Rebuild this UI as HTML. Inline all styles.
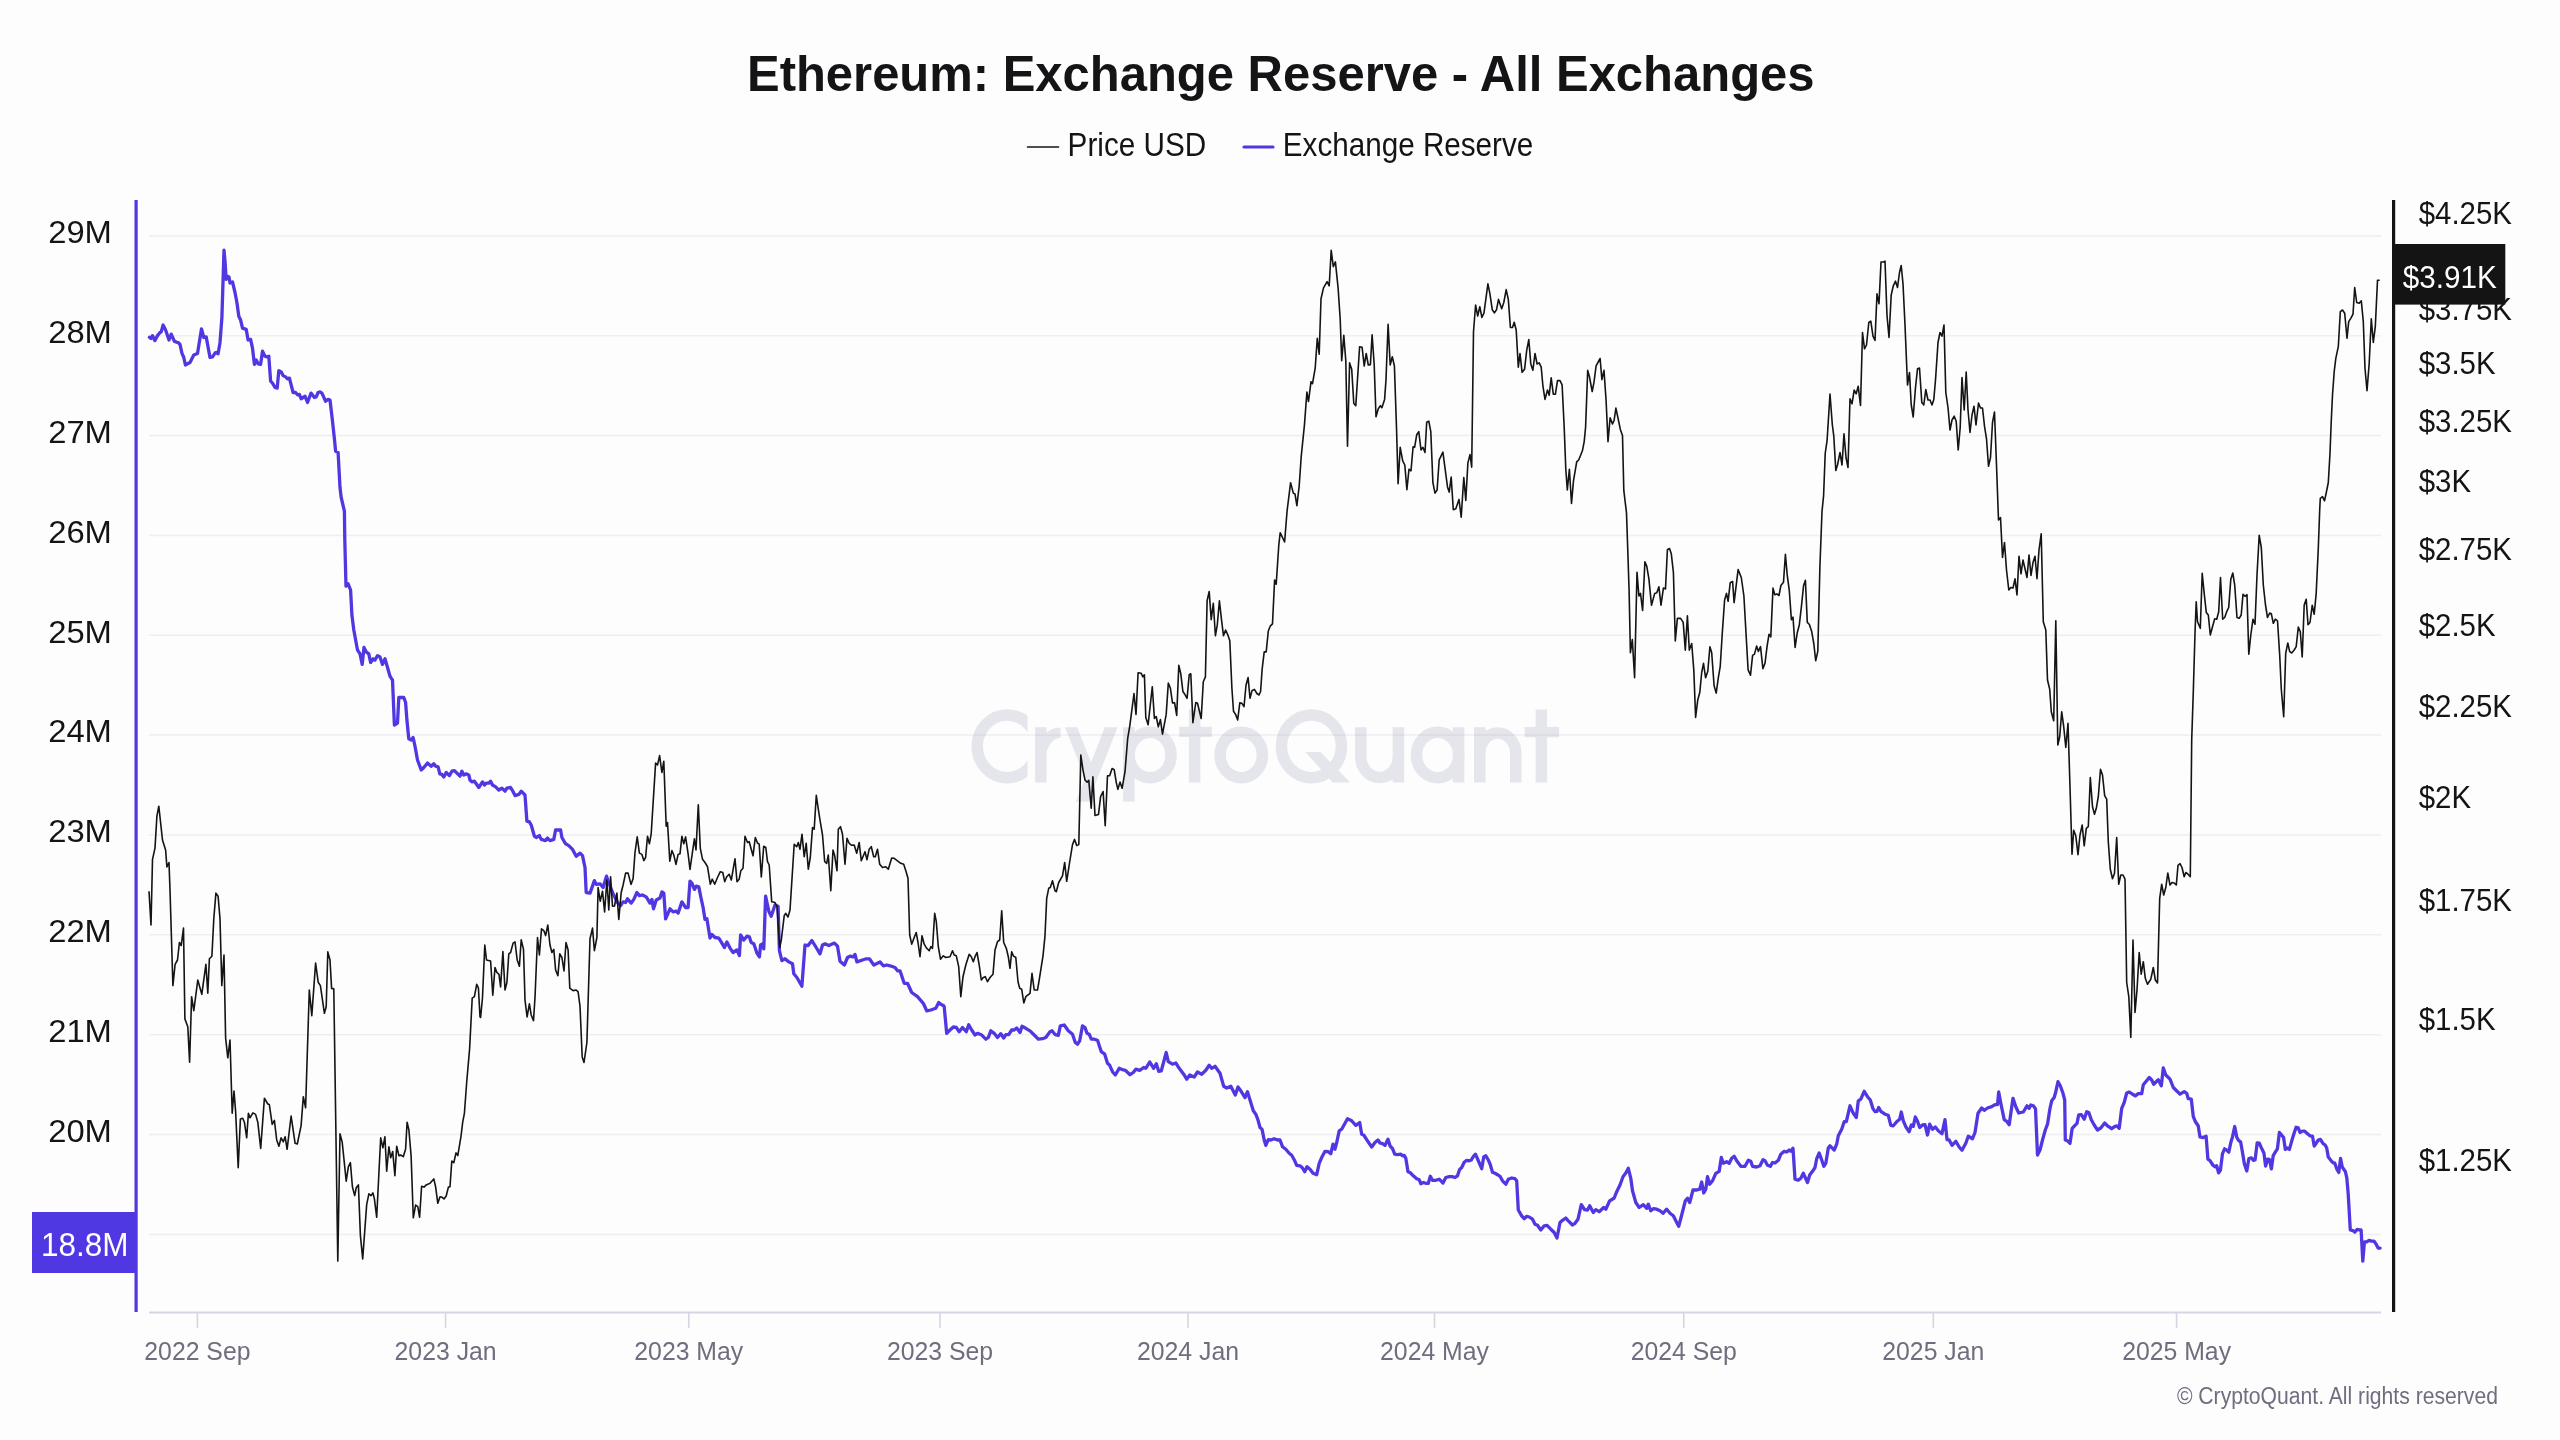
<!DOCTYPE html>
<html><head><meta charset="utf-8"><title>Ethereum: Exchange Reserve - All Exchanges</title>
<style>
html,body{margin:0;padding:0;background:#fdfdfd;}
body{width:2560px;height:1440px;overflow:hidden;font-family:"Liberation Sans", sans-serif;}
svg{display:block;will-change:transform;}
</style></head><body>
<svg width="2560" height="1440" viewBox="0 0 2560 1440" font-family='"Liberation Sans", sans-serif'>
<text x="747" y="91.3" font-size="50" font-weight="bold" fill="#141417" textLength="1067.5" lengthAdjust="spacingAndGlyphs">Ethereum: Exchange Reserve - All Exchanges</text>
<line x1="1027.5" y1="147" x2="1058.5" y2="147" stroke="#141414" stroke-width="1.6" stroke-linecap="round"/>
<text x="1067.6" y="155.5" font-size="33.6" fill="#141414" textLength="138.6" lengthAdjust="spacingAndGlyphs">Price USD</text>
<line x1="1244" y1="147" x2="1273" y2="147" stroke="#4f37e1" stroke-width="3.2" stroke-linecap="round"/>
<text x="1282.8" y="155.6" font-size="33.6" fill="#141414" textLength="250.5" lengthAdjust="spacingAndGlyphs">Exchange Reserve</text>
<defs><clipPath id="cc"><rect x="960" y="700" width="67.5" height="100"/></clipPath></defs>
<g fill="none" stroke="#e5e5ec" stroke-width="11.5">
<ellipse cx="1007.25" cy="746.35" rx="30" ry="31.3" clip-path="url(#cc)"/>
<line x1="1040.85" y1="727.2" x2="1040.85" y2="782.5"/>
<path d="M1040.85 757.5 A19.65 25 0 0 1 1060.5 732.7" stroke-width="10.5"/>
<line x1="1128.8" y1="727.2" x2="1128.8" y2="801.7"/>
<ellipse cx="1150.1" cy="755" rx="21" ry="22.7"/>
<line x1="1194.65" y1="709.5" x2="1194.65" y2="782.5"/>
<ellipse cx="1241.25" cy="755" rx="21.2" ry="22.7"/>
<ellipse cx="1311.45" cy="746.35" rx="30" ry="31.3"/>
<path d="M1360.8 727.2 V756.6 A18.825 21 0 0 0 1398.45 756.6"/>
<line x1="1398.45" y1="727.2" x2="1398.45" y2="782.5"/>
<ellipse cx="1437.6" cy="755" rx="21.15" ry="22.7"/>
<line x1="1458.55" y1="727.2" x2="1458.55" y2="782.5"/>
<line x1="1479.75" y1="727.2" x2="1479.75" y2="782.5"/>
<path d="M1479.75 753.5 A18.025 20.5 0 0 1 1515.8 753.5 V782.5"/>
<line x1="1541.35" y1="709.5" x2="1541.35" y2="782.5"/>
</g>
<g fill="#e5e5ec">
<polygon points="1065,727.2 1077.2,727.2 1097.2,778 1085,778"/>
<polygon points="1104.85,727.2 1117.6,727.2 1088.3,801.7 1075.8,801.7"/>
<rect x="1179.2" y="726.8" width="32.7" height="10.2"/>
<polygon points="1305.4,751.9 1320.5,751.9 1350.2,782.5 1332.7,782.5"/>
<rect x="1524.6" y="727" width="34.5" height="10.3"/>
</g>
<g stroke="#7c7c9c" stroke-opacity="0.11" stroke-width="1.5"><line x1="149" y1="1234.4" x2="2381" y2="1234.4"/><line x1="149" y1="1134.5" x2="2381" y2="1134.5"/><line x1="149" y1="1034.7" x2="2381" y2="1034.7"/><line x1="149" y1="934.8" x2="2381" y2="934.8"/><line x1="149" y1="835.0" x2="2381" y2="835.0"/><line x1="149" y1="735.1" x2="2381" y2="735.1"/><line x1="149" y1="635.3" x2="2381" y2="635.3"/><line x1="149" y1="535.4" x2="2381" y2="535.4"/><line x1="149" y1="435.6" x2="2381" y2="435.6"/><line x1="149" y1="335.8" x2="2381" y2="335.8"/><line x1="149" y1="235.9" x2="2381" y2="235.9"/></g>
<polyline fill="none" stroke="#4f37e1" stroke-width="3.3" stroke-linejoin="round" stroke-linecap="round" points="149.4,337.2 151.0,338.5 152.5,335.6 154.8,340.6 157.5,335.6 160.0,332.5 161.2,331.9 163.1,325.0 165.6,330.0 169.0,340.0 171.2,334.1 174.4,341.2 176.2,342.1 178.1,342.5 180.0,344.4 181.9,353.1 183.8,357.5 185.4,365.0 187.5,363.8 190.0,362.5 193.8,355.0 197.5,353.5 201.5,328.8 203.8,337.5 206.2,336.9 210.0,357.5 212.5,356.9 215.0,353.1 216.2,352.5 218.1,353.8 220.0,342.5 221.9,317.5 224.0,250.2 225.0,261.2 226.2,279.4 227.5,276.2 229.0,276.9 230.0,283.1 232.5,281.9 235.0,292.5 236.9,302.5 238.8,316.2 240.6,320.0 242.5,328.1 246.2,329.4 248.1,340.0 250.6,339.4 252.5,348.1 254.4,364.4 256.2,360.0 258.1,363.8 260.6,364.4 262.5,351.2 265.0,356.2 266.9,356.9 268.8,356.2 270.6,381.2 272.5,383.1 275.0,387.5 277.2,388.1 278.8,370.6 281.2,371.9 283.1,375.6 285.6,376.9 287.5,378.8 289.4,378.1 293.1,392.5 295.6,392.5 297.5,394.8 299.4,394.4 301.2,398.8 305.0,396.2 307.5,402.5 311.0,393.1 314.4,397.5 316.2,396.9 318.1,392.5 320.0,391.9 321.9,393.1 325.6,401.2 328.1,399.4 330.0,400.0 332.5,421.2 334.4,438.8 335.6,451.2 338.1,452.5 340.0,487.5 341.2,497.5 344.4,511.2 344.8,540.0 346.0,586.2 348.1,583.8 350.6,590.0 351.9,615.0 353.8,630.0 357.5,650.0 360.0,653.8 362.2,664.4 364.0,647.5 366.2,651.9 368.8,653.8 370.6,662.5 373.1,658.8 375.0,660.0 377.5,655.6 380.0,656.9 382.5,664.4 385.0,658.8 387.5,667.5 390.0,676.2 391.2,678.1 392.5,680.0 394.4,725.0 397.5,723.1 398.8,697.5 401.9,697.5 403.8,697.5 405.6,702.5 406.9,720.0 408.8,738.8 411.2,740.0 413.1,737.5 415.0,746.2 417.5,760.0 421.2,770.0 423.8,767.5 427.5,763.1 431.2,766.2 433.8,763.8 435.6,766.2 438.1,766.9 439.8,773.8 441.9,774.4 443.8,776.9 446.2,772.5 449.4,775.6 451.9,771.2 454.4,770.6 460.0,776.2 461.9,771.2 463.8,775.0 466.2,773.8 468.8,775.0 470.0,780.0 471.9,781.9 474.4,781.2 476.2,783.8 478.8,787.5 482.5,781.9 484.4,785.0 486.2,783.1 488.8,783.1 490.6,781.2 492.5,785.0 495.6,786.9 498.8,790.0 501.9,788.1 505.0,791.2 506.9,788.1 510.6,787.5 512.5,790.6 515.0,795.6 518.8,794.4 521.2,791.2 525.0,795.0 526.9,821.2 529.4,821.9 531.2,825.0 534.4,836.2 536.2,837.5 539.4,835.6 541.2,839.4 545.6,840.6 547.5,838.1 550.0,840.6 553.8,839.4 555.6,830.0 560.0,830.0 560.6,830.0 561.9,837.5 565.6,843.8 568.8,845.6 572.5,849.4 576.2,856.2 580.0,853.1 582.5,855.6 585.0,867.5 586.2,892.5 590.0,893.1 594.4,880.6 596.2,884.4 600.0,883.8 603.1,887.5 606.5,876.2 608.8,882.5 612.5,892.5 617.5,902.5 620.6,905.6 623.1,901.9 625.6,902.5 627.5,898.8 631.2,903.1 633.8,899.4 636.9,892.5 639.4,895.6 642.5,895.0 646.2,896.9 650.0,903.1 651.9,899.4 653.5,908.8 656.2,900.0 660.0,898.1 661.9,891.9 663.8,893.1 665.6,918.8 670.0,908.8 673.1,911.9 676.2,911.2 678.1,913.1 681.9,901.9 685.6,907.5 688.1,907.5 690.0,881.2 691.9,883.1 694.4,889.4 696.2,886.2 698.8,886.9 701.2,898.8 703.1,907.5 705.0,919.4 706.9,918.8 710.0,938.1 711.9,934.4 715.0,937.5 718.8,938.1 721.9,943.1 724.4,947.5 726.9,941.9 730.0,948.1 733.1,952.5 736.9,950.0 739.4,955.6 740.6,935.0 743.8,940.0 746.9,936.2 749.4,936.9 751.2,942.5 753.8,943.8 756.9,953.1 759.4,956.9 760.6,945.0 762.5,943.8 763.8,948.8 765.6,896.2 768.8,911.2 771.2,916.2 775.0,905.0 778.1,906.2 779.4,950.6 781.9,960.6 785.0,958.8 788.8,961.9 792.5,963.8 793.8,973.8 796.9,977.5 801.9,986.2 805.0,945.0 808.1,945.6 811.9,940.6 816.2,947.5 820.0,953.8 822.5,945.0 825.0,943.8 828.8,945.6 834.4,943.1 837.5,946.2 840.0,961.2 844.4,965.0 847.5,957.5 850.0,956.2 853.1,956.9 855.0,954.4 856.9,961.9 862.5,960.0 866.2,958.8 869.4,958.8 873.8,965.0 880.0,961.9 883.3,965.8 886.7,965.0 890.0,965.8 895.0,967.5 897.5,970.8 900.0,970.8 904.2,983.3 907.5,983.3 911.7,992.5 917.5,996.7 923.3,1003.3 926.7,1010.8 930.8,1010.0 935.8,1008.3 938.7,1002.5 940.8,1004.2 943.7,1005.8 944.2,1006.7 946.7,1033.3 950.0,1030.0 953.3,1027.0 956.3,1027.5 959.2,1031.7 962.5,1027.5 966.3,1031.7 968.7,1024.7 971.7,1030.0 975.0,1035.0 977.5,1033.3 981.3,1034.7 985.8,1039.2 988.3,1037.5 990.8,1030.8 994.2,1033.3 997.5,1037.5 1000.8,1033.7 1003.7,1038.0 1005.8,1034.7 1008.7,1034.7 1011.7,1030.0 1014.2,1030.0 1016.7,1028.0 1020.0,1032.5 1022.0,1026.3 1025.8,1028.3 1030.0,1030.8 1034.2,1035.0 1038.3,1039.2 1042.5,1038.7 1045.8,1037.5 1050.0,1031.7 1052.0,1030.8 1055.3,1034.7 1058.3,1035.3 1060.3,1025.8 1064.2,1025.0 1068.3,1030.8 1072.5,1034.2 1075.3,1042.5 1077.5,1044.2 1079.7,1040.8 1082.5,1025.8 1085.0,1027.5 1087.0,1033.3 1089.2,1034.2 1091.3,1039.2 1094.2,1039.2 1097.5,1040.3 1101.3,1051.7 1104.7,1054.2 1107.5,1063.3 1109.7,1065.3 1112.5,1071.7 1115.3,1075.0 1119.2,1068.3 1122.5,1069.7 1125.3,1070.3 1130.0,1074.7 1133.3,1072.5 1135.8,1069.2 1139.7,1070.3 1143.7,1067.5 1145.8,1068.3 1149.7,1062.0 1153.7,1068.3 1156.3,1063.7 1158.7,1071.3 1161.3,1070.8 1164.2,1060.0 1166.2,1052.5 1168.3,1061.7 1172.5,1064.2 1175.8,1063.0 1179.2,1068.3 1183.7,1074.2 1186.7,1079.2 1189.7,1075.0 1194.2,1077.0 1197.5,1072.0 1201.7,1074.2 1205.8,1070.3 1209.2,1065.3 1211.7,1068.3 1215.0,1066.3 1220.0,1073.3 1223.7,1086.3 1226.7,1088.0 1230.8,1086.3 1235.3,1095.0 1238.0,1087.0 1240.8,1090.8 1245.0,1097.5 1247.5,1091.7 1250.0,1100.0 1253.3,1110.8 1255.8,1114.2 1258.0,1120.0 1260.0,1127.5 1262.0,1129.2 1264.2,1140.0 1265.8,1145.3 1268.3,1139.7 1270.8,1140.0 1274.2,1138.7 1277.5,1140.0 1280.0,1140.0 1282.5,1146.7 1285.8,1149.2 1289.2,1153.3 1291.7,1155.3 1294.2,1159.7 1296.7,1165.3 1300.0,1165.8 1302.5,1168.0 1304.7,1171.7 1307.0,1166.7 1310.0,1169.2 1313.0,1173.3 1316.7,1174.7 1319.2,1163.3 1321.7,1157.5 1325.0,1151.3 1328.3,1151.7 1330.8,1153.7 1333.0,1144.2 1335.0,1149.2 1336.7,1142.5 1339.2,1130.8 1341.7,1129.2 1345.0,1123.3 1347.5,1118.7 1351.7,1120.8 1355.8,1125.3 1359.7,1122.5 1361.7,1134.2 1363.7,1135.0 1367.5,1140.8 1371.7,1147.0 1375.0,1142.5 1378.0,1140.0 1380.0,1143.0 1382.5,1143.7 1385.0,1145.3 1388.0,1139.2 1390.0,1145.8 1392.5,1148.7 1394.7,1154.2 1397.5,1154.7 1400.8,1154.2 1402.5,1155.8 1404.2,1155.3 1405.8,1158.3 1408.0,1171.7 1410.0,1172.5 1413.3,1175.8 1416.7,1178.8 1419.2,1179.7 1420.8,1183.7 1423.3,1182.5 1425.8,1183.3 1428.3,1183.3 1430.3,1176.3 1432.5,1180.3 1435.8,1180.3 1439.2,1179.2 1443.0,1183.0 1445.8,1177.5 1449.2,1176.7 1452.5,1176.7 1455.0,1177.5 1457.5,1175.8 1459.5,1169.7 1461.7,1167.5 1464.2,1162.2 1466.7,1160.3 1469.2,1160.8 1471.3,1160.0 1473.3,1156.7 1475.5,1154.2 1478.0,1160.0 1481.7,1168.7 1483.7,1157.0 1485.8,1155.8 1488.3,1160.0 1490.3,1164.7 1492.5,1172.2 1495.0,1173.3 1497.5,1174.7 1500.0,1176.3 1502.5,1180.8 1505.8,1184.2 1508.3,1179.2 1511.7,1178.0 1515.0,1178.7 1516.7,1180.8 1518.3,1210.0 1521.7,1215.8 1524.2,1218.7 1526.7,1216.3 1529.2,1217.0 1532.5,1219.2 1535.0,1224.2 1537.5,1225.3 1540.8,1230.0 1544.2,1225.8 1547.0,1225.3 1550.8,1229.2 1554.2,1232.5 1557.0,1238.0 1560.0,1222.5 1562.5,1220.3 1565.8,1218.0 1568.3,1220.8 1572.5,1225.0 1575.0,1223.3 1578.0,1219.2 1581.3,1204.7 1584.7,1209.7 1587.5,1210.0 1589.7,1205.8 1593.3,1212.5 1595.8,1209.7 1599.2,1211.7 1603.7,1207.5 1605.8,1209.2 1609.7,1200.8 1614.2,1198.0 1616.7,1191.7 1620.0,1185.0 1623.0,1176.7 1625.8,1173.0 1628.3,1168.3 1630.8,1178.3 1632.5,1190.8 1635.8,1202.5 1639.2,1207.5 1643.3,1204.7 1646.7,1208.3 1648.3,1204.2 1650.8,1210.8 1653.3,1208.7 1656.7,1209.2 1660.0,1210.8 1663.0,1213.3 1666.7,1209.2 1670.0,1213.3 1673.3,1215.8 1676.7,1222.5 1678.7,1226.3 1681.7,1215.0 1685.3,1200.8 1687.5,1198.3 1689.7,1202.5 1693.0,1190.0 1696.7,1190.0 1699.7,1189.2 1701.7,1182.0 1703.7,1193.0 1705.8,1189.2 1707.5,1176.7 1709.7,1184.2 1712.5,1180.8 1715.8,1173.3 1719.2,1171.3 1721.3,1157.5 1723.3,1163.3 1726.7,1161.7 1729.2,1163.3 1731.7,1158.3 1734.2,1156.3 1736.7,1160.8 1740.8,1166.3 1745.0,1166.3 1748.3,1160.3 1750.8,1161.3 1752.5,1166.3 1756.7,1167.0 1760.0,1165.8 1763.0,1159.7 1765.0,1160.8 1767.5,1165.3 1770.3,1166.3 1772.5,1162.5 1775.0,1163.0 1778.3,1160.3 1780.8,1154.2 1784.2,1151.3 1786.7,1152.0 1789.2,1150.0 1790.8,1151.3 1793.0,1148.3 1795.0,1179.2 1798.3,1180.3 1800.8,1178.3 1803.3,1173.3 1807.5,1182.5 1809.7,1175.0 1812.5,1171.3 1815.0,1167.5 1816.7,1158.7 1819.2,1153.0 1821.7,1160.0 1823.8,1166.3 1825.8,1163.3 1828.3,1148.0 1830.0,1145.8 1834.2,1150.0 1836.7,1144.2 1838.3,1135.8 1841.7,1129.2 1844.2,1121.7 1846.3,1121.7 1850.0,1105.8 1853.3,1113.3 1856.3,1117.5 1858.3,1100.8 1860.8,1099.2 1864.2,1091.3 1867.5,1096.7 1870.3,1100.0 1873.0,1108.7 1875.0,1111.7 1877.0,1111.3 1878.7,1107.5 1880.8,1111.3 1885.0,1114.2 1888.3,1115.3 1890.8,1125.3 1893.3,1125.8 1896.7,1121.7 1899.7,1119.2 1901.3,1112.0 1903.3,1120.8 1905.8,1126.7 1909.2,1131.7 1911.3,1125.0 1913.3,1126.3 1915.3,1117.0 1917.5,1121.3 1919.7,1127.5 1922.5,1125.0 1925.0,1124.7 1927.5,1135.0 1929.7,1124.2 1932.5,1129.2 1935.3,1127.0 1938.3,1130.8 1942.0,1133.7 1945.0,1119.7 1947.0,1139.7 1949.2,1140.0 1952.0,1145.3 1955.8,1141.3 1959.2,1147.0 1962.0,1150.3 1965.8,1143.3 1968.3,1136.3 1972.5,1138.7 1975.0,1132.5 1978.0,1113.3 1981.7,1108.0 1984.2,1110.3 1987.5,1108.0 1991.7,1106.7 1995.0,1104.7 1997.5,1104.7 1998.7,1092.0 2000.8,1103.3 2004.2,1119.7 2006.7,1121.3 2009.2,1124.7 2011.3,1110.0 2013.0,1098.3 2015.8,1106.7 2018.7,1113.0 2023.3,1112.0 2027.0,1105.8 2029.2,1108.3 2030.8,1105.0 2033.3,1105.8 2035.5,1108.7 2037.5,1155.0 2040.0,1150.0 2042.5,1140.0 2045.3,1130.0 2047.5,1124.2 2050.0,1108.3 2051.7,1100.8 2054.2,1097.5 2055.8,1091.7 2058.0,1081.7 2060.3,1085.8 2063.0,1093.3 2064.7,1100.0 2065.3,1140.0 2067.5,1140.8 2070.0,1143.3 2072.2,1128.3 2075.0,1125.3 2077.0,1123.3 2078.7,1115.0 2081.3,1114.7 2084.2,1119.2 2086.7,1111.7 2088.8,1112.5 2091.3,1119.7 2094.2,1125.0 2097.5,1130.0 2100.8,1128.0 2104.7,1123.0 2107.5,1125.8 2111.7,1128.7 2115.0,1126.3 2117.0,1125.8 2119.2,1128.3 2121.7,1108.3 2124.2,1102.5 2126.7,1093.0 2129.2,1092.0 2132.5,1094.2 2135.3,1095.8 2138.3,1093.7 2141.7,1093.7 2143.3,1084.7 2145.8,1081.7 2149.2,1077.5 2151.7,1080.0 2153.7,1084.2 2156.7,1081.3 2158.3,1079.7 2161.3,1085.8 2163.3,1068.0 2165.8,1075.0 2170.0,1079.2 2173.3,1087.5 2175.8,1090.0 2180.0,1094.2 2184.2,1091.7 2186.7,1093.3 2188.3,1098.7 2191.3,1099.2 2193.3,1116.7 2195.4,1121.7 2198.2,1125.8 2200.0,1136.9 2203.1,1137.6 2206.1,1136.2 2207.9,1159.2 2210.0,1160.6 2212.8,1165.0 2214.9,1166.8 2216.7,1165.8 2218.6,1172.8 2220.4,1170.3 2222.5,1153.6 2224.6,1148.8 2226.7,1150.1 2228.8,1152.2 2230.8,1142.5 2232.5,1136.9 2234.7,1126.5 2236.7,1136.9 2238.5,1140.4 2240.6,1141.8 2242.2,1150.8 2244.4,1164.0 2246.8,1171.0 2248.9,1158.5 2251.4,1157.8 2253.3,1160.3 2255.1,1159.9 2257.2,1142.8 2259.3,1143.2 2261.8,1148.8 2263.9,1152.9 2265.6,1166.1 2267.6,1159.2 2269.4,1159.4 2271.4,1168.9 2273.2,1155.7 2275.3,1152.2 2277.4,1148.8 2279.4,1132.5 2281.5,1134.9 2283.6,1137.6 2285.3,1149.4 2287.1,1148.0 2289.4,1149.4 2291.7,1141.1 2294.0,1133.5 2296.1,1127.2 2298.2,1127.9 2300.0,1132.5 2302.4,1131.1 2304.4,1131.1 2307.2,1133.5 2310.0,1135.8 2312.5,1136.2 2314.2,1146.0 2316.2,1143.2 2318.3,1140.0 2320.4,1139.4 2322.8,1143.2 2325.3,1145.3 2326.7,1148.0 2328.3,1157.1 2330.8,1160.3 2332.9,1162.6 2334.7,1163.1 2337.1,1169.6 2338.8,1172.4 2340.6,1158.5 2342.2,1166.8 2344.0,1169.6 2345.4,1171.7 2346.8,1177.9 2348.2,1193.9 2350.3,1230.0 2353.1,1230.7 2354.7,1232.1 2357.2,1229.3 2359.7,1230.0 2361.1,1230.0 2362.8,1261.2 2364.4,1241.8 2366.7,1241.8 2369.0,1240.4 2371.4,1241.1 2373.9,1241.1 2376.0,1243.9 2378.1,1248.1 2380.1,1248.1"/>
<polyline fill="none" stroke="#141414" stroke-width="1.6" stroke-linejoin="round" points="149.0,891.2 151.0,925.0 152.5,859.4 155.0,848.1 156.9,816.2 158.8,806.2 162.5,840.0 165.6,850.0 166.9,866.9 169.0,862.5 170.0,890.0 172.9,985.6 175.1,964.4 177.5,960.0 179.4,942.5 181.2,945.6 183.5,928.1 184.9,1018.9 187.8,1026.7 189.6,1062.2 191.6,996.7 193.8,1010.7 197.8,980.0 201.8,994.4 203.3,983.3 205.9,964.4 207.8,993.3 209.4,958.8 211.9,956.2 213.8,918.8 215.9,893.1 218.1,896.2 220.0,918.8 221.8,985.6 224.0,955.0 225.6,1037.8 227.8,1057.8 230.0,1040.0 232.2,1113.3 234.0,1091.1 235.6,1111.1 238.2,1167.8 240.4,1118.9 242.7,1118.2 244.4,1122.2 246.7,1137.8 248.4,1113.3 250.0,1117.8 252.9,1112.9 255.6,1114.4 257.8,1122.2 260.7,1148.4 264.4,1098.2 267.8,1104.0 269.3,1104.4 272.2,1124.4 274.4,1120.4 276.7,1140.0 278.9,1146.2 281.1,1137.8 283.3,1141.8 285.1,1136.7 287.1,1149.3 291.1,1116.0 295.1,1143.3 297.3,1144.0 301.1,1125.6 303.3,1096.7 305.6,1107.8 309.3,990.0 311.8,1015.6 315.6,963.1 318.2,982.2 320.4,985.6 324.4,1013.3 326.2,1006.7 327.8,951.9 330.0,960.0 331.6,988.4 333.8,988.9 337.8,1261.1 340.0,1133.8 342.2,1142.2 346.2,1181.1 348.4,1166.7 350.4,1162.7 352.4,1186.7 354.7,1195.6 356.2,1187.8 358.4,1184.9 360.4,1235.6 362.7,1258.9 364.4,1235.6 366.7,1204.4 368.9,1193.8 371.1,1195.6 372.9,1192.9 374.4,1198.9 376.7,1217.3 378.9,1173.3 380.7,1137.8 382.9,1147.8 384.9,1136.7 386.7,1171.1 388.9,1146.7 390.7,1157.8 392.7,1151.6 394.9,1175.6 396.7,1146.2 398.9,1155.6 401.1,1155.1 403.3,1156.7 405.6,1148.9 407.1,1122.2 408.9,1130.0 411.1,1155.6 413.3,1217.8 415.6,1205.1 417.8,1206.7 419.6,1217.3 421.6,1186.2 424.0,1187.1 426.2,1184.9 430.0,1183.3 433.8,1178.9 435.6,1186.7 437.8,1203.3 440.0,1196.7 442.2,1197.3 444.0,1198.9 446.2,1196.0 448.4,1187.1 450.0,1186.7 451.8,1161.1 453.8,1162.7 456.0,1152.9 457.8,1155.6 461.1,1135.6 462.7,1122.2 464.4,1113.3 466.7,1082.2 469.6,1048.9 472.2,998.2 474.4,996.7 476.7,984.4 478.4,987.8 480.0,1016.7 480.6,1017.5 482.5,997.5 484.8,945.0 486.5,960.0 490.6,961.0 492.8,995.2 495.0,967.5 496.9,972.5 499.0,974.4 500.6,986.9 502.9,951.5 505.0,990.0 506.9,982.5 508.8,953.8 510.6,952.5 513.1,943.1 515.0,941.9 517.2,960.0 519.4,966.2 521.2,939.8 523.5,949.4 525.0,1000.0 527.1,1016.9 529.4,1003.8 531.2,1015.0 533.5,1020.6 535.0,997.5 537.5,937.5 539.4,955.0 541.5,928.8 543.8,930.6 545.6,935.6 547.8,925.0 550.0,945.0 551.9,952.5 553.8,949.4 555.6,970.0 557.9,975.6 559.8,953.8 561.9,957.5 564.0,971.0 566.0,942.5 568.1,950.0 569.8,988.1 573.1,990.6 576.2,990.0 578.1,991.9 580.0,1006.2 582.2,1056.9 584.0,1062.5 586.9,1042.5 590.0,938.8 592.5,928.1 594.4,950.6 596.9,937.5 598.1,887.5 600.2,901.2 602.5,891.2 604.6,911.9 606.9,880.0 608.8,910.0 610.6,876.9 612.5,906.2 614.5,906.0 616.9,893.1 618.8,919.4 621.2,892.5 623.1,885.0 625.6,873.1 628.1,873.1 631.0,884.4 633.1,878.8 635.0,852.5 637.2,836.9 639.4,853.1 641.9,854.4 643.8,860.6 645.6,857.5 647.5,836.2 649.4,843.8 651.2,833.8 655.6,763.1 657.5,765.0 659.6,755.6 661.9,772.5 663.8,761.2 666.2,826.2 667.5,822.5 669.8,861.2 671.9,850.6 673.8,855.0 676.0,864.4 678.1,854.4 680.0,853.8 681.9,836.2 683.8,843.8 685.6,836.9 688.1,853.8 690.0,869.4 692.5,851.9 694.4,838.8 696.0,850.0 698.3,804.7 700.3,848.3 702.5,859.2 705.0,862.5 707.5,866.7 710.3,884.2 712.2,879.2 714.7,884.2 717.5,877.5 720.3,871.7 722.8,872.5 724.7,881.7 726.7,876.7 729.2,874.2 731.3,880.0 735.0,858.7 737.0,881.7 739.2,879.2 740.8,870.8 743.0,868.3 745.0,836.3 747.5,842.5 749.2,841.7 753.0,855.8 755.3,837.5 757.5,843.0 759.2,844.2 761.3,877.0 763.7,846.3 765.8,847.5 767.5,861.7 769.2,865.0 771.7,901.7 775.0,902.5 777.0,906.7 779.7,947.5 781.3,940.0 784.2,915.8 785.8,913.3 788.0,917.0 790.0,910.0 794.2,844.2 796.7,846.7 798.3,842.5 800.0,849.2 802.0,834.2 804.2,856.7 806.2,843.3 808.3,869.2 810.3,857.5 812.5,827.5 814.2,829.2 816.3,795.3 818.3,809.2 820.0,820.0 822.5,835.0 824.7,861.7 826.7,863.3 828.3,855.0 830.8,890.8 833.0,850.0 834.7,855.8 837.0,870.8 838.3,829.2 840.5,826.7 842.5,834.2 845.0,864.2 847.0,838.3 849.2,843.3 851.7,845.3 854.2,845.0 856.7,853.3 859.2,842.5 861.3,860.8 865.0,851.7 867.0,859.7 869.2,849.2 871.3,846.7 873.7,856.7 875.3,856.7 877.5,849.2 879.7,864.2 882.5,867.5 885.8,866.7 888.3,869.2 891.7,858.0 894.2,858.3 897.5,860.8 900.8,863.3 903.7,864.2 905.8,870.8 908.0,878.3 909.7,935.0 911.7,944.2 914.2,937.5 916.2,932.5 918.0,942.5 920.0,956.7 922.0,935.8 924.2,944.2 926.7,948.3 929.2,950.8 930.8,946.7 932.5,948.3 934.7,913.3 936.3,921.7 938.3,946.7 940.5,959.2 943.3,955.8 945.8,957.5 950.0,956.7 952.5,950.8 954.2,955.0 956.3,955.8 958.7,966.7 960.8,996.7 963.0,976.7 965.8,965.0 969.2,954.2 971.3,956.7 973.3,961.7 975.0,956.7 977.0,952.5 979.2,965.0 981.3,980.0 983.3,977.5 985.3,976.7 987.5,981.7 990.0,977.5 993.0,974.2 995.0,950.0 997.5,941.7 999.7,940.0 1001.7,910.8 1003.7,942.5 1006.3,948.3 1008.3,956.7 1010.0,968.3 1011.7,951.7 1013.3,955.8 1015.8,957.5 1018.0,981.7 1019.7,988.3 1021.7,989.2 1023.8,1003.0 1025.8,996.7 1030.0,993.3 1032.0,973.3 1034.2,990.0 1037.5,990.0 1039.2,980.0 1043.0,955.8 1045.0,935.8 1046.7,898.3 1048.7,888.3 1050.3,887.5 1052.5,880.8 1055.0,890.8 1056.3,891.7 1058.7,882.5 1062.5,875.8 1064.7,862.5 1066.7,881.3 1069.2,865.0 1072.5,844.6 1074.6,839.4 1076.7,845.6 1078.8,844.6 1080.8,755.0 1082.9,769.6 1085.0,780.0 1087.1,782.1 1088.8,780.4 1091.2,808.1 1092.9,776.9 1095.0,815.4 1098.5,814.4 1100.6,796.7 1103.1,791.5 1105.2,825.8 1107.5,775.8 1109.6,775.8 1112.1,768.5 1114.2,769.6 1116.2,782.1 1117.9,789.4 1120.0,782.1 1122.1,788.3 1125.0,771.7 1127.7,738.3 1129.8,725.8 1134.0,693.5 1136.0,714.4 1138.1,672.7 1141.2,673.3 1142.9,676.9 1144.4,674.8 1145.8,717.5 1148.1,724.8 1152.3,686.7 1154.4,718.5 1156.2,716.5 1158.3,726.9 1160.4,719.6 1162.5,734.2 1166.2,714.4 1168.3,683.1 1170.4,688.3 1172.5,702.9 1174.6,702.9 1176.7,715.4 1178.8,665.4 1180.8,673.8 1182.9,691.5 1185.0,694.6 1187.1,698.3 1189.2,674.8 1190.8,673.8 1192.9,722.7 1195.8,702.5 1197.5,703.3 1201.2,718.5 1203.3,681.7 1205.4,676.9 1207.1,600.8 1209.2,591.5 1211.2,619.6 1213.3,603.3 1215.4,635.8 1217.3,624.8 1219.4,600.8 1221.5,619.6 1223.5,635.8 1225.6,630.0 1227.7,634.6 1229.8,640.8 1231.9,688.3 1233.5,711.2 1235.6,714.4 1237.7,720.0 1239.8,702.9 1241.9,703.3 1244.0,706.7 1246.0,685.2 1248.1,677.5 1250.0,698.3 1252.1,690.4 1254.4,689.4 1256.9,693.5 1259.0,695.0 1260.6,691.5 1262.1,669.6 1264.2,651.9 1266.2,651.9 1268.3,631.0 1270.4,625.8 1272.5,623.8 1274.6,580.0 1276.2,584.2 1278.8,545.0 1280.2,532.7 1284.6,542.0 1287.1,510.8 1290.6,482.7 1293.3,493.1 1295.0,494.0 1296.9,505.6 1299.2,485.8 1301.2,456.7 1304.4,425.4 1306.9,392.1 1308.5,401.5 1311.0,381.7 1312.5,383.7 1315.2,368.1 1317.3,338.3 1319.2,354.2 1321.0,298.8 1323.5,287.9 1327.1,281.7 1329.2,285.8 1331.2,250.4 1333.3,266.7 1335.4,261.9 1338.1,287.9 1340.2,319.2 1341.7,360.8 1343.8,335.4 1345.8,360.8 1347.5,446.2 1349.6,362.9 1351.7,369.2 1353.8,403.5 1355.8,405.6 1359.6,346.7 1362.1,347.3 1364.2,366.0 1366.2,353.5 1368.3,365.0 1370.4,364.6 1372.1,334.8 1374.2,364.6 1376.0,416.7 1378.3,408.8 1380.4,405.6 1381.9,407.7 1384.6,399.4 1386.0,379.6 1388.1,324.4 1390.2,365.0 1392.3,356.7 1394.4,366.0 1396.5,427.5 1398.1,483.8 1400.2,447.3 1402.7,460.8 1404.8,465.0 1406.9,489.6 1409.0,469.2 1411.0,470.8 1413.1,446.7 1414.6,447.3 1416.7,434.8 1418.8,431.7 1421.0,450.0 1422.9,447.3 1425.0,452.5 1426.7,422.3 1428.8,421.2 1430.8,431.7 1432.9,482.7 1435.0,493.1 1437.1,490.0 1439.2,459.8 1442.9,452.1 1445.4,471.2 1447.5,486.9 1449.2,492.1 1451.2,477.1 1453.3,509.8 1455.8,508.8 1459.0,499.4 1461.2,517.1 1463.8,477.5 1465.8,500.4 1467.9,462.9 1470.0,454.6 1471.7,467.1 1473.5,331.7 1475.6,305.0 1477.7,316.0 1479.8,306.7 1481.9,317.5 1484.0,312.9 1487.9,283.8 1489.8,293.1 1492.3,309.8 1494.4,312.9 1496.5,309.8 1498.5,299.4 1501.7,308.8 1503.8,302.5 1506.2,289.6 1508.3,299.4 1510.4,327.5 1512.5,327.5 1514.2,322.3 1516.2,330.0 1518.3,367.1 1520.0,353.5 1522.1,372.3 1524.6,369.2 1526.7,350.4 1528.8,339.6 1530.8,364.0 1532.9,370.2 1535.0,353.5 1537.1,364.0 1539.2,362.9 1541.2,367.1 1542.9,385.8 1545.0,399.4 1547.5,390.0 1549.2,395.2 1551.2,377.9 1553.3,394.2 1555.4,394.2 1557.5,380.6 1560.0,380.6 1562.1,384.8 1564.2,427.5 1565.8,469.2 1567.3,490.0 1569.4,469.2 1571.5,503.5 1573.5,480.6 1576.7,461.9 1578.8,459.8 1582.4,450.8 1584.2,441.6 1585.6,427.1 1587.7,370.4 1589.5,377.0 1592.2,391.5 1594.0,382.2 1596.1,365.9 1600.1,358.5 1601.9,379.6 1604.0,370.4 1606.1,400.7 1608.0,441.6 1610.1,417.9 1612.5,423.9 1614.1,420.5 1615.9,408.1 1618.5,420.5 1620.4,429.7 1622.5,435.5 1623.8,490.4 1626.5,512.9 1627.8,551.1 1629.1,590.7 1630.4,652.7 1632.3,639.6 1634.6,677.8 1637.0,572.3 1638.9,596.0 1640.5,593.4 1642.6,610.5 1644.9,561.7 1646.8,566.4 1648.9,578.9 1651.5,605.2 1654.7,593.4 1656.8,592.8 1658.9,586.8 1661.0,605.2 1663.4,588.1 1665.5,588.9 1667.4,549.8 1669.5,548.5 1671.3,553.8 1673.4,572.3 1675.3,640.9 1677.4,618.4 1680.6,618.4 1683.2,622.4 1685.3,650.1 1687.4,615.8 1689.3,650.1 1691.7,643.5 1693.8,669.9 1695.6,717.4 1697.7,700.3 1699.8,692.3 1701.7,672.5 1703.5,663.3 1705.6,677.8 1707.8,671.2 1709.9,646.7 1711.7,652.7 1714.1,685.7 1716.2,693.1 1718.3,677.8 1720.2,666.7 1722.3,633.0 1724.6,600.0 1726.5,593.4 1728.1,601.3 1730.2,582.8 1732.6,581.5 1734.1,602.6 1738.1,569.6 1741.3,577.5 1743.9,596.0 1746.0,633.0 1748.1,669.9 1750.5,675.2 1752.6,655.4 1754.5,654.1 1756.6,646.1 1758.4,651.4 1760.5,646.7 1762.9,668.6 1765.0,663.3 1767.1,646.1 1769.0,634.3 1770.8,636.9 1773.0,588.1 1774.8,594.7 1776.9,593.9 1779.0,595.5 1780.9,585.4 1783.5,582.3 1785.4,554.3 1787.2,574.9 1789.3,590.7 1791.4,619.8 1793.0,617.1 1795.1,647.5 1797.2,633.0 1799.3,625.0 1801.4,606.6 1803.6,585.4 1805.4,580.2 1807.3,622.4 1809.4,624.5 1811.7,631.6 1813.8,643.5 1815.7,660.7 1817.8,651.4 1819.9,567.0 1822.0,511.5 1823.6,495.7 1825.2,453.5 1827.1,440.3 1830.0,394.1 1832.3,424.5 1833.8,436.2 1835.8,470.5 1837.5,465.0 1840.0,452.5 1842.0,465.0 1844.0,433.8 1846.0,457.5 1848.0,467.5 1850.0,398.8 1852.0,403.8 1854.2,390.0 1856.2,393.8 1858.2,386.2 1860.5,405.5 1862.5,332.5 1864.5,348.8 1866.5,345.0 1868.8,322.5 1870.8,321.2 1873.0,336.2 1875.0,340.5 1877.0,293.8 1879.0,303.8 1881.0,262.0 1883.5,262.0 1885.0,261.2 1887.0,315.5 1889.0,337.5 1891.2,295.0 1893.2,286.2 1895.5,281.2 1897.5,287.5 1899.5,272.5 1901.2,265.5 1903.0,283.8 1905.0,325.0 1907.5,385.0 1909.5,372.5 1911.2,404.5 1913.2,417.0 1915.5,387.5 1917.5,368.8 1919.5,368.0 1921.8,402.5 1923.8,405.0 1925.8,389.5 1928.0,400.0 1930.0,400.0 1932.0,405.0 1933.8,399.5 1935.5,380.0 1938.0,342.5 1940.0,332.5 1942.0,336.2 1944.0,325.0 1945.8,392.5 1948.0,407.5 1950.0,430.0 1952.0,420.0 1954.2,416.2 1956.2,421.2 1958.2,450.0 1960.2,427.5 1962.0,377.5 1964.2,410.0 1966.2,372.0 1968.0,410.0 1970.0,432.5 1972.0,415.0 1974.0,406.2 1976.0,425.0 1978.5,403.0 1980.5,408.0 1982.5,408.0 1984.5,426.2 1986.5,438.8 1988.5,466.2 1990.5,457.5 1992.5,422.5 1994.5,412.0 1996.5,465.0 1998.5,520.0 2000.5,517.5 2002.5,557.5 2004.5,542.5 2006.5,570.0 2008.8,590.0 2010.8,587.5 2013.0,588.0 2015.0,578.8 2017.0,595.0 2019.0,556.2 2021.0,573.8 2023.0,560.0 2025.0,568.8 2027.0,577.5 2029.0,555.0 2031.0,575.5 2033.0,562.5 2035.0,556.2 2037.0,578.8 2039.0,550.0 2041.2,533.8 2043.3,621.7 2045.8,630.0 2047.5,680.0 2049.7,689.2 2051.3,711.7 2053.7,720.8 2055.8,620.8 2057.8,745.0 2059.7,736.7 2061.7,711.7 2063.7,726.7 2065.8,747.5 2068.0,723.3 2070.0,786.7 2072.0,854.2 2073.7,830.3 2075.8,835.8 2078.0,854.7 2080.0,835.0 2082.2,825.0 2084.2,845.8 2086.3,828.3 2088.3,826.7 2090.3,777.5 2092.5,806.7 2094.5,814.2 2096.3,808.3 2098.3,796.7 2100.5,769.2 2102.5,775.0 2104.7,795.8 2106.7,799.2 2108.3,841.7 2110.3,869.2 2112.5,878.7 2114.5,873.3 2116.7,837.5 2118.7,884.2 2120.8,875.0 2123.0,875.0 2125.0,879.2 2126.7,982.5 2128.8,996.7 2130.8,1037.5 2133.0,940.0 2135.0,1012.5 2137.0,990.0 2139.2,952.5 2141.2,974.2 2143.3,961.7 2145.3,978.3 2147.5,984.2 2150.8,979.2 2153.3,967.5 2155.3,980.0 2157.5,983.0 2159.7,898.3 2161.7,884.2 2163.7,895.0 2165.8,887.5 2167.8,873.0 2170.0,885.0 2172.0,882.5 2174.2,883.0 2176.3,885.0 2178.0,865.3 2180.0,863.7 2182.0,867.5 2184.2,876.7 2185.8,872.5 2188.0,874.2 2190.3,876.7 2191.7,740.0 2193.3,691.7 2195.0,633.3 2196.2,601.7 2197.5,621.7 2200.3,628.3 2202.2,573.3 2204.2,593.3 2206.3,612.5 2208.3,615.0 2210.3,635.0 2212.5,626.7 2214.7,618.7 2216.7,619.2 2218.7,611.7 2220.5,577.5 2222.7,619.2 2224.7,617.5 2226.7,611.7 2228.7,607.5 2230.8,579.2 2232.8,573.0 2234.7,585.0 2237.0,617.5 2239.2,618.3 2241.2,615.0 2243.0,594.2 2245.0,596.3 2247.0,594.7 2248.8,654.2 2250.8,635.0 2253.0,619.2 2255.0,624.2 2257.0,575.0 2259.2,535.3 2261.3,547.5 2263.3,585.0 2265.5,605.0 2267.5,617.5 2269.7,613.0 2271.3,613.7 2273.3,623.3 2275.3,619.2 2277.5,620.8 2279.7,655.0 2281.3,689.2 2283.7,716.7 2285.7,653.3 2287.8,643.0 2289.7,651.7 2291.7,653.0 2294.2,650.0 2296.2,646.7 2298.3,627.0 2300.3,631.7 2302.2,657.0 2304.2,605.0 2306.2,599.2 2308.0,624.7 2310.0,622.5 2312.2,605.3 2314.2,614.2 2316.2,593.3 2318.3,548.3 2319.7,510.0 2320.3,498.3 2322.5,496.7 2324.5,500.8 2326.3,492.5 2328.3,482.5 2330.0,453.3 2331.3,420.0 2332.5,395.0 2334.2,371.7 2335.8,358.3 2338.3,346.7 2340.3,311.7 2342.5,310.0 2344.7,313.3 2347.0,338.3 2348.7,321.7 2350.8,318.3 2353.0,314.2 2354.7,287.5 2356.7,302.5 2359.2,303.3 2361.3,300.8 2363.3,321.7 2365.0,368.3 2367.0,390.8 2369.2,363.3 2371.3,318.7 2373.3,342.5 2375.3,326.7 2377.5,280.3 2379.7,280.3"/>
<g font-size="31" fill="#141414"><text x="111.9" y="1141.8" text-anchor="end" textLength="63.7" lengthAdjust="spacingAndGlyphs">20M</text><text x="111.9" y="1041.9" text-anchor="end" textLength="63.7" lengthAdjust="spacingAndGlyphs">21M</text><text x="111.9" y="942.0" text-anchor="end" textLength="63.7" lengthAdjust="spacingAndGlyphs">22M</text><text x="111.9" y="842.2" text-anchor="end" textLength="63.7" lengthAdjust="spacingAndGlyphs">23M</text><text x="111.9" y="742.4" text-anchor="end" textLength="63.7" lengthAdjust="spacingAndGlyphs">24M</text><text x="111.9" y="642.5" text-anchor="end" textLength="63.7" lengthAdjust="spacingAndGlyphs">25M</text><text x="111.9" y="542.6" text-anchor="end" textLength="63.7" lengthAdjust="spacingAndGlyphs">26M</text><text x="111.9" y="442.8" text-anchor="end" textLength="63.7" lengthAdjust="spacingAndGlyphs">27M</text><text x="111.9" y="342.9" text-anchor="end" textLength="63.7" lengthAdjust="spacingAndGlyphs">28M</text><text x="111.9" y="243.1" text-anchor="end" textLength="63.7" lengthAdjust="spacingAndGlyphs">29M</text></g>
<rect x="134.5" y="200" width="3.2" height="1112" fill="#4f37e1"/>
<rect x="32" y="1212" width="105" height="61" fill="#4f37e1"/>
<text x="40.9" y="1255.6" font-size="33" fill="#ffffff" textLength="87.5" lengthAdjust="spacingAndGlyphs">18.8M</text>
<g font-size="31" fill="#141414" transform="translate(2419.6,0) scale(0.95,1)"><text x="-1" y="223.9">$4.25K</text><text x="-1" y="320.0">$3.75K</text><text x="-1" y="374.4">$3.5K</text><text x="-1" y="431.6">$3.25K</text><text x="-1" y="492.4">$3K</text><text x="-1" y="560.0">$2.75K</text><text x="-1" y="635.6">$2.5K</text><text x="-1" y="716.8">$2.25K</text><text x="-1" y="807.9">$2K</text><text x="-1" y="911.0">$1.75K</text><text x="-1" y="1030.1">$1.5K</text><text x="-1" y="1170.9">$1.25K</text></g>
<rect x="2392" y="200" width="3.2" height="1112" fill="#141414"/>
<rect x="2392.3" y="244" width="113" height="60.6" fill="#141414"/>
<text x="2402.7" y="288" font-size="32" fill="#ffffff" textLength="94" lengthAdjust="spacingAndGlyphs">$3.91K</text>
<line x1="149" y1="1312.5" x2="2381" y2="1312.5" stroke="#d6d6e2" stroke-width="2"/>
<g stroke="#d6d6e2" stroke-width="1.6"><line x1="197.4" y1="1312" x2="197.4" y2="1328"/><line x1="445.6" y1="1312" x2="445.6" y2="1328"/><line x1="688.75" y1="1312" x2="688.75" y2="1328"/><line x1="940" y1="1312" x2="940" y2="1328"/><line x1="1188" y1="1312" x2="1188" y2="1328"/><line x1="1434.5" y1="1312" x2="1434.5" y2="1328"/><line x1="1683.75" y1="1312" x2="1683.75" y2="1328"/><line x1="1933.3" y1="1312" x2="1933.3" y2="1328"/><line x1="2176.6" y1="1312" x2="2176.6" y2="1328"/></g>
<g font-size="25.7" fill="#6e6e7e"><text transform="translate(197.4,0) scale(0.965,1)" x="0" y="1360.4" text-anchor="middle">2022 Sep</text><text transform="translate(445.6,0) scale(0.965,1)" x="0" y="1360.4" text-anchor="middle">2023 Jan</text><text transform="translate(688.75,0) scale(0.965,1)" x="0" y="1360.4" text-anchor="middle">2023 May</text><text transform="translate(940,0) scale(0.965,1)" x="0" y="1360.4" text-anchor="middle">2023 Sep</text><text transform="translate(1188,0) scale(0.965,1)" x="0" y="1360.4" text-anchor="middle">2024 Jan</text><text transform="translate(1434.5,0) scale(0.965,1)" x="0" y="1360.4" text-anchor="middle">2024 May</text><text transform="translate(1683.75,0) scale(0.965,1)" x="0" y="1360.4" text-anchor="middle">2024 Sep</text><text transform="translate(1933.3,0) scale(0.965,1)" x="0" y="1360.4" text-anchor="middle">2025 Jan</text><text transform="translate(2176.6,0) scale(0.965,1)" x="0" y="1360.4" text-anchor="middle">2025 May</text></g>
<text x="2176.9" y="1404.2" font-size="23" fill="#6e6e80" textLength="321" lengthAdjust="spacingAndGlyphs">© CryptoQuant. All rights reserved</text>
</svg>
</body></html>
